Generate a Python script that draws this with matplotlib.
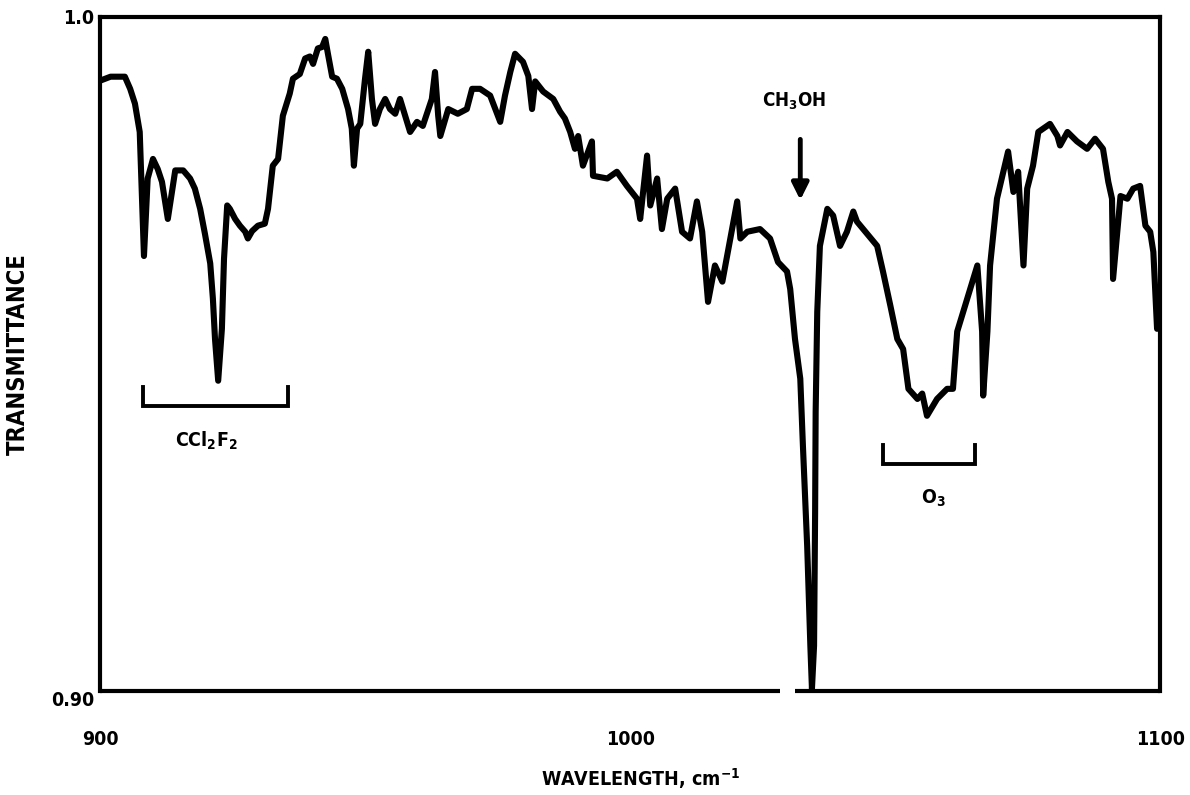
import numpy as np
import matplotlib
matplotlib.use('Agg')
from matplotlib import pyplot as plt

plt.rcParams['font.family'] = ['DejaVu Sans']
plt.rcParams['font.stretch'] = 'condensed'
plt.rcParams['font.weight'] = 'bold'
plt.rcParams['axes.labelweight'] = 'bold'
plt.rcParams['mathtext.fontset'] = 'custom'
plt.rcParams['mathtext.rm'] = 'DejaVu Sans:bold'
plt.rcParams['mathtext.bf'] = 'DejaVu Sans:bold'
plt.rcParams['mathtext.default'] = 'rm'

# spectrum, wavenumber (cm-1) vs transmittance
wavenumber = [
    900.0, 902.0, 904.7, 905.7, 906.6, 907.5, 908.3, 909.0, 910.0, 910.9,
    911.7, 912.8, 914.2, 915.7, 917.0, 917.9, 918.9, 919.8, 920.8, 921.3,
    921.7, 922.3, 923.0, 923.4, 924.0, 924.5, 925.5, 926.4, 927.4, 927.9,
    928.7, 929.8, 931.1, 931.7, 932.6, 933.6, 934.5, 935.8, 936.4, 937.7,
    938.7, 939.6, 940.2, 941.1, 941.9, 942.5, 943.0, 943.8, 944.7, 945.7,
    946.8, 947.5, 947.9, 948.5, 949.1, 950.0, 950.6, 951.3, 951.9, 952.8,
    953.8, 954.7, 955.7, 956.6, 958.5, 959.8, 960.9, 962.6, 963.2, 963.8,
    964.2, 965.7, 967.5, 969.2, 970.2, 971.7, 973.6, 975.5, 976.4, 977.4,
    978.3, 979.8, 980.8, 981.5, 982.1, 983.6, 985.5, 986.8, 987.7, 988.7,
    989.6, 990.2, 991.1, 992.8, 993.0, 995.7, 997.5, 999.4, 1001.3, 1001.9,
    1003.2, 1003.8, 1005.1, 1006.0, 1007.0, 1008.5, 1009.8, 1011.3, 1012.6, 1013.6,
    1014.7, 1016.0, 1017.4, 1018.9, 1020.2, 1020.8, 1022.1, 1024.5, 1026.4, 1027.9,
    1029.6, 1030.2, 1031.1, 1032.1, 1032.6, 1033.4, 1034.0, 1034.3, 1034.7, 1034.9,
    1035.0, 1035.3, 1035.8, 1037.2, 1038.3, 1039.6, 1040.9, 1042.1, 1042.8, 1044.7,
    1046.6, 1047.7, 1049.1, 1050.4, 1051.5, 1052.5, 1054.2, 1055.1, 1056.0, 1057.9,
    1059.8, 1060.9, 1061.7, 1063.6, 1065.5, 1066.4, 1066.6, 1067.4, 1067.9, 1069.2,
    1070.4, 1071.3, 1072.3, 1073.2, 1074.2, 1074.9, 1076.0, 1077.0, 1079.2, 1080.6,
    1081.1, 1082.5, 1084.3, 1086.2, 1087.7, 1089.2, 1090.2, 1090.9, 1091.1, 1091.9,
    1092.5, 1093.8, 1094.9, 1096.2, 1097.2, 1098.1, 1098.7, 1099.4, 1100.0,
]
transmittance = [
    0.9905, 0.9911, 0.9911, 0.9893, 0.9871, 0.9829, 0.9645, 0.9760, 0.9789, 0.9774,
    0.9755, 0.9700, 0.9772, 0.9772, 0.9760, 0.9745, 0.9715, 0.9678, 0.9634, 0.9582,
    0.9522, 0.9460, 0.9537, 0.9641, 0.9720, 0.9715, 0.9700, 0.9690, 0.9681, 0.9671,
    0.9682, 0.9690, 0.9693, 0.9715, 0.9779, 0.9789, 0.9853, 0.9886, 0.9908, 0.9915,
    0.9938, 0.9941, 0.9930, 0.9953, 0.9955, 0.9967, 0.9945, 0.9911, 0.9908, 0.9893,
    0.9863, 0.9834, 0.9779, 0.9834, 0.9841, 0.9908, 0.9948, 0.9878, 0.9841, 0.9863,
    0.9878, 0.9863, 0.9856, 0.9878, 0.9829, 0.9844, 0.9838, 0.9878, 0.9918, 0.9853,
    0.9823, 0.9863, 0.9856, 0.9863, 0.9893, 0.9893, 0.9883, 0.9844, 0.9883, 0.9918,
    0.9945, 0.9933, 0.9912, 0.9863, 0.9904, 0.9889, 0.9878, 0.9859, 0.9849, 0.9829,
    0.9804, 0.9823, 0.9779, 0.9815, 0.9764, 0.9760, 0.9770, 0.9749, 0.9730, 0.9700,
    0.9794, 0.9720, 0.9760, 0.9685, 0.9730, 0.9745, 0.9681, 0.9671, 0.9726, 0.9681,
    0.9577, 0.9631, 0.9607, 0.9671, 0.9726, 0.9671, 0.9681, 0.9685, 0.9671, 0.9636,
    0.9622, 0.9596, 0.9522, 0.9463, 0.9363, 0.9215, 0.9067, 0.9003, 0.9067, 0.9266,
    0.9414, 0.9562, 0.9660, 0.9715, 0.9705, 0.9660, 0.9681, 0.9711, 0.9696, 0.9678,
    0.9660, 0.9622, 0.9571, 0.9522, 0.9507, 0.9448, 0.9433, 0.9441, 0.9408, 0.9433,
    0.9448, 0.9448, 0.9533, 0.9582, 0.9631, 0.9533, 0.9438, 0.9533, 0.9631, 0.9730,
    0.9770, 0.9800, 0.9740, 0.9770, 0.9631, 0.9745, 0.9779, 0.9829, 0.9841, 0.9823,
    0.9809, 0.9829, 0.9815, 0.9804, 0.9819, 0.9804, 0.9755, 0.9730, 0.9611, 0.9681,
    0.9734, 0.9730, 0.9745, 0.9749, 0.9690, 0.9681, 0.9651, 0.9537, 0.9582,
]

x_ticks = [900, 1000, 1100]
x_ticklabels = ['900', '1000', '1100']
y_ticks = [0.90, 1.0]
y_ticklabels = ['0.90', '1.0']

# band assignments: (label, left, right, bracket level, label position)
bands = [
    ('CCl$_2$F$_2$', 908.1, 935.5, 0.9423, (920.0, 0.9371)),
    ('O$_3$', 1047.7, 1065.1, 0.9337, (1057.2, 0.9285)),
]
methanol = ('CH$_3$OH', 1032.1, 0.9875)

fig = plt.figure(figsize=(11.9, 7.95), dpi=100)
ax = fig.add_axes([0.084, 0.131, 0.891, 0.848])

ax.plot(wavenumber, transmittance, color='black', lw=4.4,
        solid_joinstyle='round', solid_capstyle='round')

ax.set_xlim(900, 1100)
ax.set_ylim(0.90, 1.0)

for label, x0, x1, level, (tx, ty) in bands:
    h = 0.0028
    ax.plot([x0, x0, x1, x1], [level + h, level, level, level + h],
            color='black', lw=2.8, solid_joinstyle='miter')
    ax.text(tx, ty, label, ha='center', va='center', fontsize=14)

ax.text(methanol[1] - 1.2, methanol[2], methanol[0], ha='center', va='center', fontsize=13.5)
ax.annotate('', xy=(methanol[1], 0.9728), xytext=(methanol[1], 0.9818),
            arrowprops=dict(arrowstyle='-|>,head_width=0.5,head_length=1.0',
                            color='black', lw=3.5, shrinkA=0, shrinkB=0))

for side in ['top', 'left', 'right', 'bottom']:
    ax.spines[side].set_linewidth(3.0)
# the bottom frame line is broken just left of the methanol band
ax.spines['bottom'].set_visible(False)
gap = (1028.3, 1031.1)
ax.plot([900, gap[0]], [0.90, 0.90], color='black', lw=3.0, clip_on=False,
        solid_capstyle='butt')
ax.plot([gap[1], 1100], [0.90, 0.90], color='black', lw=3.0, clip_on=False,
        solid_capstyle='butt')

ax.set_xticks(x_ticks)
ax.set_xticklabels(x_ticklabels, fontsize=14)
ax.set_yticks(y_ticks)
ax.set_yticklabels(y_ticklabels, fontsize=14)
ax.tick_params(axis='x', length=0, pad=28)
ax.tick_params(axis='y', length=0, pad=4)
ax.get_yticklabels()[0].set_va('top')

ax.set_ylabel('TRANSMITTANCE', fontsize=17)
ax.yaxis.set_label_coords(-0.066, 0.5)
ax.set_xlabel('WAVELENGTH, cm$^{-1}$', fontsize=14)
ax.xaxis.set_label_coords(0.51, -0.112)

fig.savefig('out.png', dpi=100, facecolor='white')
